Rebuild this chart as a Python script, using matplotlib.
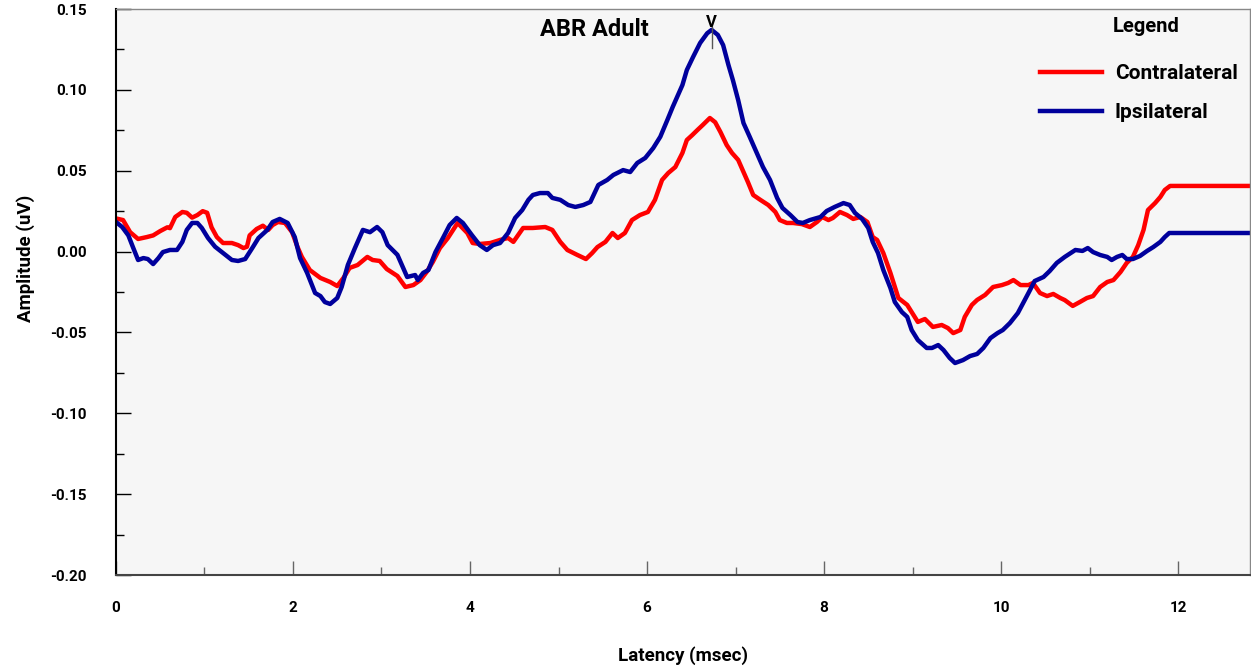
import matplotlib
matplotlib.use("Agg")
import matplotlib.pyplot as plt
from matplotlib.ticker import MultipleLocator, FormatStrFormatter

plt.rcParams["font.family"] = ["Roboto", "DejaVu Sans"]
plt.rcParams["font.weight"] = "bold"

# latency (ms) / amplitude (uV) samples of the two averaged recordings
contra_ms = [
    0.00, 0.08, 0.16, 0.25, 0.35, 0.42, 0.50, 0.58, 0.61, 0.67, 0.75, 0.80, 0.86, 0.92, 0.98,
    1.03, 1.08, 1.14, 1.21, 1.31, 1.38, 1.44, 1.48, 1.51, 1.59, 1.66, 1.72, 1.77, 1.83, 1.91,
    1.99, 2.05, 2.10, 2.19, 2.31, 2.42, 2.50, 2.57, 2.64, 2.73, 2.84, 2.90, 2.98, 3.06, 3.18,
    3.27, 3.36, 3.44, 3.51, 3.58, 3.66, 3.75, 3.86, 3.97, 4.03, 4.11, 4.23, 4.34, 4.43, 4.49,
    4.60, 4.71, 4.85, 4.93, 5.02, 5.10, 5.21, 5.31, 5.38, 5.44, 5.53, 5.61, 5.67, 5.75, 5.83,
    5.92, 6.01, 6.09, 6.17, 6.24, 6.32, 6.40, 6.45, 6.51, 6.57, 6.63, 6.71, 6.77, 6.83, 6.90,
    6.96, 7.03, 7.09, 7.14, 7.20, 7.28, 7.37, 7.45, 7.50, 7.58, 7.65, 7.75, 7.84, 7.92, 7.98,
    8.05, 8.10, 8.18, 8.26, 8.33, 8.41, 8.49, 8.55, 8.60, 8.67, 8.75, 8.84, 8.94, 8.99, 9.06,
    9.14, 9.23, 9.33, 9.40, 9.46, 9.54, 9.59, 9.67, 9.73, 9.82, 9.91, 10.01, 10.08, 10.14, 10.22,
    10.31, 10.36, 10.44, 10.52, 10.59, 10.67, 10.72, 10.81, 10.89, 10.97, 11.04, 11.12, 11.20, 11.27, 11.35,
    11.42, 11.49, 11.55, 11.61, 11.66, 11.74, 11.80, 11.85, 11.91, 12.81,
]
contra_uv = [
    0.0205, 0.0195, 0.0120, 0.0078, 0.0090, 0.0100, 0.0127, 0.0150, 0.0145, 0.0214, 0.0245, 0.0240, 0.0210, 0.0226, 0.0250,
    0.0240, 0.0150, 0.0090, 0.0053, 0.0053, 0.0040, 0.0022, 0.0030, 0.0100, 0.0140, 0.0160, 0.0134, 0.0164, 0.0183, 0.0177,
    0.0120, 0.0030, -0.0033, -0.0114, -0.0163, -0.0188, -0.0213, -0.0163, -0.0101, -0.0083, -0.0033, -0.0052, -0.0058, -0.0108, -0.0151,
    -0.0219, -0.0207, -0.0176, -0.0126, -0.0064, 0.0022, 0.0084, 0.0177, 0.0115, 0.0053, 0.0047, 0.0053, 0.0072, 0.0084, 0.0060,
    0.0146, 0.0146, 0.0152, 0.0134, 0.0060, 0.0010, -0.0020, -0.0046, -0.0009, 0.0028, 0.0060, 0.0115, 0.0084, 0.0115, 0.0195,
    0.0226, 0.0245, 0.0320, 0.0443, 0.0486, 0.0523, 0.0610, 0.0690, 0.0720, 0.0752, 0.0783, 0.0826, 0.0800, 0.0739, 0.0659,
    0.0610, 0.0567, 0.0492, 0.0430, 0.0350, 0.0320, 0.0288, 0.0245, 0.0195, 0.0177, 0.0177, 0.0170, 0.0152, 0.0183, 0.0214,
    0.0195, 0.0208, 0.0245, 0.0226, 0.0202, 0.0214, 0.0183, 0.0090, 0.0072, -0.0009, -0.0132, -0.0287, -0.0330, -0.0374, -0.0435,
    -0.0417, -0.0466, -0.0454, -0.0473, -0.0504, -0.0485, -0.0404, -0.0330, -0.0299, -0.0268, -0.0219, -0.0207, -0.0194, -0.0176, -0.0207,
    -0.0207, -0.0194, -0.0256, -0.0275, -0.0262, -0.0287, -0.0300, -0.0336, -0.0312, -0.0287, -0.0275, -0.0219, -0.0188, -0.0176, -0.0126,
    -0.0070, -0.0033, 0.0040, 0.0134, 0.0257, 0.0300, 0.0338, 0.0381, 0.0406, 0.0406,
]

ipsi_ms = [
    0.00, 0.07, 0.14, 0.19, 0.25, 0.31, 0.36, 0.42, 0.48, 0.53, 0.61, 0.69, 0.75, 0.80, 0.86,
    0.92, 0.97, 1.04, 1.12, 1.21, 1.31, 1.38, 1.46, 1.54, 1.61, 1.71, 1.77, 1.85, 1.94, 2.02,
    2.08, 2.16, 2.25, 2.31, 2.36, 2.42, 2.50, 2.55, 2.62, 2.70, 2.79, 2.87, 2.95, 3.01, 3.07,
    3.18, 3.23, 3.29, 3.38, 3.41, 3.47, 3.53, 3.61, 3.70, 3.77, 3.85, 3.92, 4.02, 4.11, 4.19,
    4.26, 4.34, 4.43, 4.51, 4.59, 4.66, 4.71, 4.79, 4.88, 4.93, 5.02, 5.11, 5.19, 5.28, 5.36,
    5.45, 5.55, 5.62, 5.73, 5.81, 5.89, 5.98, 6.07, 6.15, 6.23, 6.29, 6.40, 6.45, 6.52, 6.60,
    6.68, 6.73, 6.80, 6.86, 6.92, 6.97, 7.03, 7.09, 7.16, 7.24, 7.31, 7.39, 7.47, 7.53, 7.62,
    7.70, 7.76, 7.84, 7.96, 8.03, 8.12, 8.22, 8.29, 8.35, 8.43, 8.50, 8.55, 8.61, 8.67, 8.75,
    8.80, 8.88, 8.94, 8.99, 9.06, 9.16, 9.22, 9.29, 9.35, 9.42, 9.48, 9.57, 9.65, 9.73, 9.80,
    9.88, 9.96, 10.02, 10.10, 10.19, 10.25, 10.31, 10.38, 10.48, 10.55, 10.63, 10.72, 10.84, 10.92, 10.98,
    11.04, 11.12, 11.20, 11.25, 11.31, 11.37, 11.42, 11.49, 11.57, 11.65, 11.72, 11.80, 11.85, 11.90, 12.81,
]
ipsi_uv = [
    0.0183, 0.0152, 0.0100, 0.0030, -0.0052, -0.0040, -0.0046, -0.0077, -0.0040, -0.0003, 0.0010, 0.0010, 0.0060, 0.0134, 0.0177,
    0.0177, 0.0146, 0.0084, 0.0030, -0.0009, -0.0052, -0.0058, -0.0046, 0.0022, 0.0084, 0.0134, 0.0183, 0.0202, 0.0177, 0.0090,
    -0.0040, -0.0132, -0.0256, -0.0275, -0.0312, -0.0324, -0.0287, -0.0219, -0.0083, 0.0022, 0.0134, 0.0120, 0.0152, 0.0120, 0.0040,
    -0.0020, -0.0083, -0.0157, -0.0145, -0.0176, -0.0132, -0.0114, -0.0003, 0.0090, 0.0164, 0.0208, 0.0177, 0.0103, 0.0040, 0.0010,
    0.0040, 0.0053, 0.0115, 0.0208, 0.0257, 0.0320, 0.0350, 0.0362, 0.0362, 0.0332, 0.0320, 0.0288, 0.0276, 0.0288, 0.0307,
    0.0412, 0.0443, 0.0474, 0.0504, 0.0492, 0.0548, 0.0579, 0.0640, 0.0710, 0.0814, 0.0894, 0.1030, 0.1123, 0.1203, 0.1290,
    0.1350, 0.1371, 0.1340, 0.1277, 0.1154, 0.1061, 0.0937, 0.0795, 0.0710, 0.0610, 0.0523, 0.0443, 0.0332, 0.0270, 0.0226,
    0.0183, 0.0177, 0.0195, 0.0214, 0.0251, 0.0276, 0.0300, 0.0288, 0.0239, 0.0202, 0.0146, 0.0060, -0.0009, -0.0114, -0.0225,
    -0.0312, -0.0374, -0.0404, -0.0485, -0.0547, -0.0596, -0.0596, -0.0578, -0.0609, -0.0658, -0.0689, -0.0671, -0.0646, -0.0633, -0.0596,
    -0.0535, -0.0504, -0.0485, -0.0442, -0.0380, -0.0318, -0.0256, -0.0182, -0.0157, -0.0120, -0.0070, -0.0033, 0.0010, 0.0004, 0.0022,
    -0.0003, -0.0021, -0.0033, -0.0052, -0.0033, -0.0021, -0.0046, -0.0046, -0.0027, 0.0004, 0.0028, 0.0060, 0.0090, 0.0115, 0.0115,
]

series_names = ["Contralateral", "Ipsilateral"]
wave_v_ms = 6.73
wave_v_uv = 0.1371

fig = plt.figure(figsize=(12.51, 6.69), dpi=100)
ax = fig.add_axes([0.0927, 0.1405, 0.9063, 0.846])
ax.set_facecolor("#f6f6f6")

ax.plot(contra_ms, contra_uv, color="#ff0000", lw=3.2, label=series_names[0], solid_joinstyle="round")
ax.plot(ipsi_ms, ipsi_uv, color="#00009c", lw=3.2, label=series_names[1], solid_joinstyle="round")

# wave V marker
ax.plot([wave_v_ms, wave_v_ms], [wave_v_uv + 0.002, wave_v_uv - 0.011], color="#555555", lw=1)
ax.text(wave_v_ms, wave_v_uv + 0.0015, "V", ha="center", va="baseline", fontsize=12, fontweight="bold")

ax.text(5.41, 0.1375, "ABR Adult", ha="center", va="center", fontsize=17, fontweight="bold")

ax.set_xlim(0, 12.81)
ax.set_ylim(-0.20, 0.15)
ax.xaxis.set_major_locator(MultipleLocator(2))
ax.xaxis.set_minor_locator(MultipleLocator(1))
ax.yaxis.set_major_locator(MultipleLocator(0.05))
ax.yaxis.set_minor_locator(MultipleLocator(0.025))
ax.yaxis.set_major_formatter(FormatStrFormatter("%.2f"))

ax.tick_params(axis="y", which="major", direction="in", length=11, width=1, color="black", pad=21, labelsize=11)
ax.tick_params(axis="y", which="minor", direction="in", length=6, width=1, color="black")
ax.tick_params(axis="x", which="major", direction="in", length=10, width=1, color="#666666", pad=19, labelsize=11)
ax.tick_params(axis="x", which="minor", direction="in", length=6, width=1, color="#666666")

ax.spines["left"].set_color("black")
ax.spines["left"].set_linewidth(1.5)
ax.spines["bottom"].set_color("#444444")
ax.spines["bottom"].set_linewidth(1.5)
for side in ("top", "right"):
    ax.spines[side].set_color("#888888")
    ax.spines[side].set_linewidth(1)

ax.set_xlabel("Latency (msec)", fontsize=13.5, fontweight="bold")
ax.set_ylabel("Amplitude (uV)", fontsize=13.5, fontweight="bold")
ax.xaxis.set_label_coords(0.5, -0.125)
ax.yaxis.set_label_coords(-0.071, 0.56)

ax.text(0.909, 0.969, "Legend", transform=ax.transAxes, ha="center", va="center", fontsize=14.5, fontweight="bold")
ax.legend(loc="upper left", bbox_to_anchor=(0.815, 0.902), frameon=False, fontsize=15,
          handlelength=3.0, handletextpad=0.6, labelspacing=0.94, borderpad=0, borderaxespad=0)

fig.savefig("out.png", dpi=100)
